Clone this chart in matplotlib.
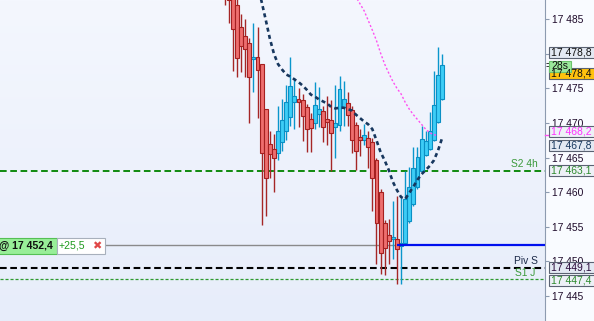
import numpy as np
import matplotlib.pyplot as plt
from matplotlib.patches import Rectangle
from matplotlib.colors import LinearSegmentedColormap
from matplotlib.transforms import blended_transform_factory

plt.rcParams['font.family'] = ['Liberation Sans', 'DejaVu Sans']
plt.rcParams['lines.scale_dashes'] = False

# bougies (OHLC), index 0..53
opens = [17492.0, 17490.0, 17488.0, 17487.0, 17483.9, 17482.5, 17481.5, 17479.2, 17479.5, 17478.5,
         17472.0, 17467.0, 17466.2, 17465.6, 17467.2, 17468.8, 17470.8, 17473.1, 17473.5, 17473.3,
         17472.3, 17470.6, 17470.0, 17471.3, 17471.8, 17470.6, 17470.4, 17469.4, 17469.7, 17472.3,
         17472.9, 17471.9, 17469.7, 17468.0, 17467.6, 17467.9, 17467.3, 17464.7, 17460.0, 17455.6,
         17453.8, 17453.2, 17453.3, 17452.3, 17452.6, 17455.8, 17458.3, 17460.8, 17463.0, 17465.4,
         17466.3, 17467.6, 17470.2, 17473.5]
highs = [17494.0, 17491.0, 17489.0, 17488.0, 17485.7, 17485.0, 17482.3, 17484.5, 17483.8, 17478.5,
         17472.0, 17468.9, 17468.4, 17472.4, 17473.4, 17475.5, 17479.5, 17476.5, 17475.0, 17474.2,
         17472.8, 17471.5, 17475.9, 17475.2, 17472.5, 17473.9, 17473.3, 17475.5, 17476.8, 17476.1,
         17474.5, 17472.4, 17470.2, 17469.2, 17469.9, 17468.8, 17467.8, 17465.0, 17460.5, 17456.0,
         17456.1, 17458.7, 17459.4, 17459.2, 17463.1, 17463.7, 17466.6, 17466.6, 17469.6, 17468.9,
         17471.6, 17477.5, 17480.9, 17480.0]
lows = [17487.1, 17484.4, 17477.5, 17476.6, 17477.4, 17476.6, 17470.0, 17474.5, 17470.7, 17455.2,
        17456.5, 17462.1, 17460.1, 17464.6, 17466.0, 17467.5, 17469.6, 17469.2, 17469.4, 17467.4,
        17465.8, 17465.8, 17469.1, 17469.4, 17467.3, 17466.8, 17463.1, 17465.0, 17468.8, 17469.6,
        17469.5, 17465.6, 17463.2, 17465.3, 17466.8, 17463.5, 17457.3, 17449.6, 17448.2, 17448.0,
        17449.6, 17450.4, 17446.8, 17446.8, 17452.4, 17455.5, 17458.0, 17460.5, 17462.8, 17465.2,
        17466.1, 17467.4, 17470.0, 17473.3]
closes = [17490.0, 17487.8, 17483.5, 17479.4, 17481.1, 17480.7, 17476.7, 17479.6, 17477.6, 17465.6,
          17462.0, 17465.5, 17464.9, 17468.8, 17470.4, 17473.1, 17475.4, 17473.9, 17473.0, 17471.0,
          17469.1, 17469.3, 17472.6, 17472.0, 17469.4, 17470.2, 17468.5, 17470.0, 17474.9, 17473.5,
          17471.1, 17467.6, 17465.9, 17467.5, 17468.2, 17466.5, 17462.0, 17455.5, 17451.2, 17451.9,
          17452.9, 17453.5, 17451.8, 17452.6, 17459.0, 17460.8, 17463.5, 17465.1, 17467.7, 17467.4,
          17468.8, 17472.6, 17476.9, 17478.4]

# moyenne (pointillés bleu foncé), à partir de la bougie 8
ma_start = 8
ma_vals = [17490.0, 17487.5, 17484.9, 17482.2, 17480.0, 17478.5, 17477.7, 17477.0, 17476.7, 17476.3,
           17475.9, 17475.4, 17474.8, 17474.1, 17473.8, 17473.4, 17473.1, 17472.8, 17472.3, 17472.1,
           17472.2, 17472.2, 17472.0, 17471.8, 17471.2, 17470.7, 17470.2, 17469.8, 17469.1, 17467.5,
           17465.8, 17464.6, 17463.2, 17461.5, 17460.3, 17459.3, 17459.0, 17459.9, 17460.8, 17461.8,
           17462.6, 17463.2, 17463.8, 17464.6, 17466.0, 17467.8]
# ligne rose, à partir de la bougie 32
pink_start = 32
pink_vals = [17488.2, 17487.2, 17486.2, 17484.8, 17483.4, 17481.9, 17480.1, 17478.5, 17477.2, 17476.0,
             17475.0, 17474.2, 17473.0, 17472.0, 17471.2, 17470.5, 17469.8, 17469.1, 17468.6, 17468.3,
             17468.2]

s2_4h = 17463.1
piv_s = 17449.1
s1_j = 17447.4
entree = 17452.4
entree_idx = 42
y_ticks = [17445, 17450, 17455, 17460, 17465, 17470, 17475, 17480, 17485]
cache = [17480]  # étiquette entièrement masquée par la boîte du plus haut

def fmt(v, dec=1):
    s = f"{v:,.{dec}f}"
    return s.replace(',', ' ').replace('.', ',')

fig = plt.figure(figsize=(5.94, 3.21), dpi=100)
fig.patch.set_facecolor('#F9FBFF')
ax = fig.add_axes([0, 0, 545/594, 1])
xlim = (-54.8, 78.1)
ylim = (17441.4, 17487.76)
ax.set_xlim(*xlim)
ax.set_ylim(*ylim)

# fond dégradé
cmap = LinearSegmentedColormap.from_list('bg', ['#F4F7FE', '#E7EDFA'])
ax.imshow(np.linspace(0, 1, 200).reshape(-1, 1), cmap=cmap, aspect='auto',
          extent=[xlim[0], xlim[1], ylim[0], ylim[1]], zorder=0)

# niveaux
ax.axhline(s2_4h, color='#0E8A0E', lw=1.4, ls=(0, (4.8, 2.6)), zorder=2)
ax.axhline(piv_s, color='black', lw=1.5, ls=(0, (4.8, 2.6)), zorder=2)
ax.axhline(s1_j, color='#2F9A2F', lw=0.9, ls=(0, (2.2, 1.4)), zorder=2)
ax.axhline(entree, xmax=(entree_idx - xlim[0]) / (xlim[1] - xlim[0]), color='#8A8A8A', lw=1, zorder=2)
ax.hlines(entree, entree_idx, xlim[1], color='#0010EE', lw=1.6, zorder=6)

# bougies
idx = np.arange(len(opens))
o = np.array(opens); c = np.array(closes)
up = c >= o
wick_col = np.where(up, '#0A96CC', '#A52626')
ax.vlines(idx, lows, highs, colors=wick_col, lw=1.0, zorder=3)
body_h = np.maximum(np.abs(c - o), 0.25)
ax.bar(idx[up], body_h[up], bottom=np.minimum(o, c)[up], width=0.95,
       color='#3DCDF6', edgecolor='#0A8FC4', linewidth=0.8, zorder=4)
ax.bar(idx[~up], body_h[~up], bottom=np.minimum(o, c)[~up], width=0.95,
       color='#EE6E6E', edgecolor='#A52020', linewidth=0.8, zorder=4)

ax.plot(np.arange(ma_start, ma_start + len(ma_vals)), ma_vals, color='#17375E',
        lw=1.9, ls=(0, (2.9, 2.4)), zorder=5)
ax.plot(np.arange(pink_start, pink_start + len(pink_vals)), pink_vals, color='#FF4FF0',
        lw=1.0, ls=(0, (1.5, 1.5)), zorder=5)

# axe de droite
for s in ['left', 'top', 'bottom']:
    ax.spines[s].set_visible(False)
ax.spines['right'].set_color('#8D9BB0')
ax.set_xticks([])
ax.yaxis.tick_right()
ax.set_yticks(y_ticks)
ax.set_yticklabels(['' if v in cache else fmt(v, 0) for v in y_ticks])
ax.tick_params(axis='y', length=3, width=0.8, color='#8D9BB0', labelsize=7.4,
               labelcolor='#1E0A2A', pad=1.8)

tr = blended_transform_factory(ax.transAxes, ax.transData)
bh = 11 / 6.92
def etiquette(ypos, texte, fc, tc, x0=549, x1=600, ec='#5A6272'):
    ax.add_patch(Rectangle((x0 / 545, ypos - bh / 2), (x1 - x0) / 545, bh, transform=tr,
                           fc=fc, ec=ec, lw=0.8, clip_on=False, zorder=10))
    ax.text((x0 + 2) / 545, ypos, texte, transform=tr, color=tc, fontsize=7.5,
            va='center', ha='left', clip_on=False, zorder=11)

etiquette(17480.2, fmt(17478.8), '#E3E9F3', '#101010')
etiquette(17477.1, fmt(17478.4), '#FFC20E', '#101010')
etiquette(17478.2, '28s', '#9BE89B', '#101010', x1=571, ec='#6CC46C')
etiquette(17468.7, fmt(17468.2), '#EEF1F7', '#FF30FF')
etiquette(17466.7, fmt(17467.8), '#E3E9F3', '#17375E')
etiquette(s2_4h, fmt(s2_4h), '#EEF1F7', '#2E8B2E')
etiquette(piv_s, fmt(piv_s), '#E3E9F3', '#2A0A3A')
etiquette(17447.2, fmt(s1_j), '#EEF1F7', '#2E8B2E')
ax.text(545.5 / 545, 17478.2, '=', transform=tr, fontsize=7, va='center', ha='left',
        color='black', clip_on=False, zorder=9)
ax.plot([1.0, 549 / 545], [pink_vals[-1]] * 2, transform=tr, color='#FF4FF0', lw=1,
        clip_on=False, zorder=9)

# noms des niveaux
ax.text(538 / 545, s2_4h + 0.25, 'S2 4h', transform=tr, color='#3C9A3C', fontsize=7.4,
        ha='right', va='bottom', zorder=7)
ax.text(538 / 545, piv_s + 0.25, 'Piv S', transform=tr, color='#1B2A48', fontsize=7.4,
        ha='right', va='bottom', zorder=7)
ax.text(535 / 545, s1_j + 0.2, 'S1 J', transform=tr, color='#3C9A3C', fontsize=7.4,
        ha='right', va='bottom', zorder=7)

# position ouverte à gauche
ph = 16 / 6.92
y0 = entree - ph / 2 - 0.15
ax.add_patch(Rectangle((-2 / 545, y0), 58.7 / 545, ph, transform=tr, fc='#98EE98',
                       ec='#55C055', lw=0.8, zorder=10))
ax.add_patch(Rectangle((56.7 / 545, y0), 48.3 / 545, ph, transform=tr, fc='white',
                       ec='#A8B0BC', lw=0.8, zorder=10))
ax.text(-1 / 545, y0 + ph / 2, '@ ' + fmt(entree), transform=tr, fontsize=7.6,
        fontweight='bold', color='#101010', va='center', ha='left', zorder=11)
ax.text(59 / 545, y0 + ph / 2, '+25,5', transform=tr, fontsize=7.6, color='#1E9A1E',
        va='center', ha='left', zorder=11)
ax.text(92 / 545, y0 + ph / 2, '\u2716', transform=tr, fontsize=8, color='#E04848',
        va='center', ha='left', zorder=11, family=['DejaVu Sans'])

fig.savefig('out.png', dpi=100)
